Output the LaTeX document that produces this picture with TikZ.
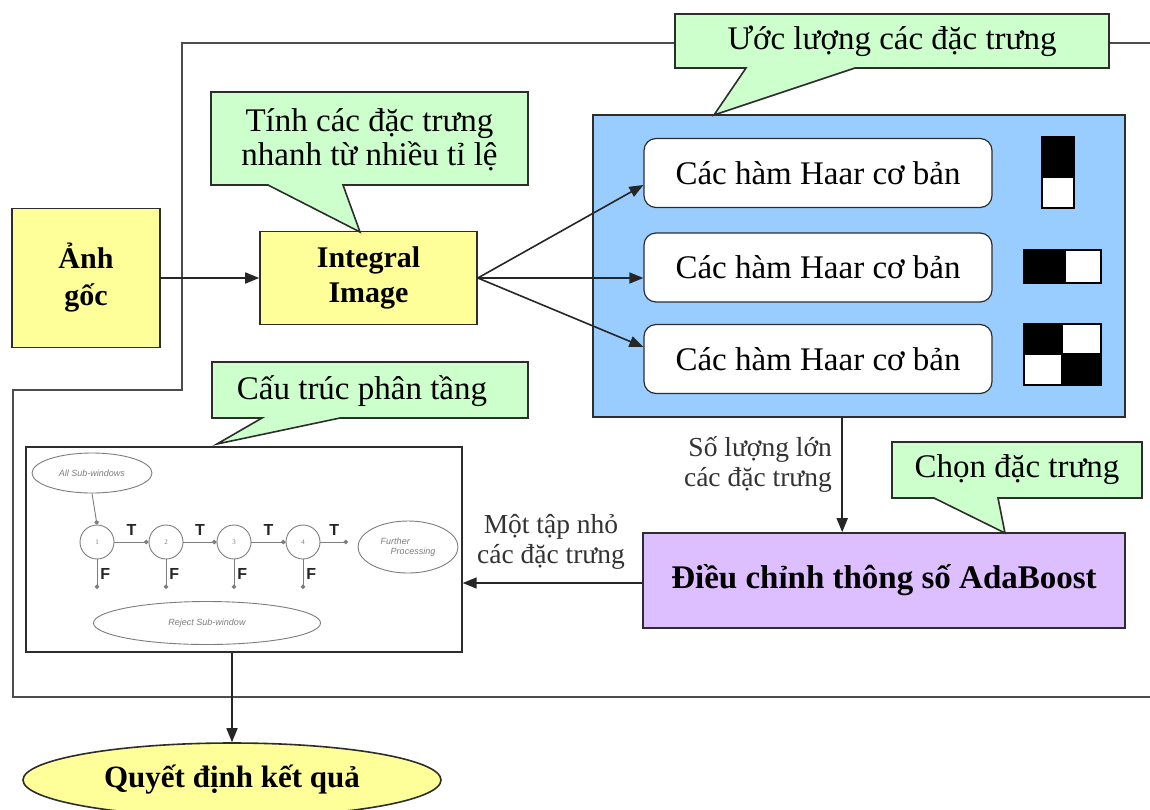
\documentclass[tikz,border=0pt]{standalone}
\usepackage{fontspec}
\setmainfont{Liberation Serif}
\setsansfont{Liberation Sans}
\usetikzlibrary{arrows.meta,shapes.geometric,calc}
\definecolor{cgreen}{RGB}{204,255,204}
\definecolor{cyellow}{RGB}{255,255,153}
\definecolor{cblue}{RGB}{153,204,255}
\definecolor{cpurple}{RGB}{221,190,255}
\definecolor{cline}{RGB}{45,45,45}
\definecolor{cgray}{RGB}{125,125,125}
\begin{document}
\begin{tikzpicture}[x=1pt,y=-1pt,
  box/.style={draw=cline,line width=1.6pt,inner sep=0pt,align=center},
  ybox/.style={box,fill=cyellow,font=\fontsize{30}{35}\selectfont\bfseries},
  callout/.style={draw=cline,line width=1.6pt,fill=cgreen,line join=miter},
  ctext/.style={inner sep=0pt,align=center,font=\fontsize{33}{34}\selectfont},
  haar/.style={draw=cline,line width=1.2pt,fill=white,rounded corners=12pt,minimum width=348pt,minimum height=69pt,inner sep=0pt,font=\fontsize{33}{36}\selectfont},
  arr/.style={draw=black!85,line width=1.6pt,-{Triangle[length=14pt,width=11pt]}},
  lbl/.style={inner sep=0pt,font=\fontsize{27.5}{30}\selectfont,text=black!80},
  outer/.style={draw=black!70,line width=2pt},
  cas/.style={draw=cgray,line width=0.9pt},
  casarr/.style={cas,-{Circle[length=4.5pt]}},
  sm/.style={font=\sffamily\itshape\fontsize{9}{10}\selectfont,text=cgray,inner sep=0pt},
  stage/.style={circle,cas,fill=white,minimum size=34pt,inner sep=0pt,font=\fontsize{7}{7}\selectfont,text=cgray},
  oval/.style={ellipse,cas,fill=white,inner sep=0pt},
  tf/.style={font=\sffamily\bfseries\fontsize{16}{16}\selectfont,inner sep=0pt,text=black!85},
  blk/.style={fill=black,draw=black,line width=1.2pt},
  wht/.style={fill=white,draw=black,line width=1.2pt},
]
\useasboundingbox[fill=white] (0,0) rectangle (1150,809);

% outer frame line
\draw[outer] (1150,43) -- (182,43) -- (182,390) -- (13,390) -- (13,697) -- (1150,697);

% main boxes
\node[ybox,minimum width=148pt,minimum height=139pt,font=\fontsize{30}{37}\selectfont\bfseries] (anh) at (86,278) {Ảnh\\gốc};
\node[ybox,minimum width=217pt,minimum height=93pt] (integ) at (368.5,278) {Integral\\Image};

% blue container
\node[box,fill=cblue,minimum width=532pt,minimum height=302pt] (blue) at (859,266) {};
\node[haar] (h1) at (818,173) {Các hàm Haar cơ bản};
\node[haar] (h2) at (818,267.5) {Các hàm Haar cơ bản};
\node[haar] (h3) at (818,359) {Các hàm Haar cơ bản};

% haar icons
\draw[wht] (1042,137) rectangle (1074,208);
\draw[blk] (1042,137) rectangle (1074,177);
\draw[wht] (1024,250) rectangle (1101,283);
\draw[blk] (1024,250) rectangle (1065,283);
\draw[wht] (1024,324) rectangle (1101,385);
\draw[blk] (1024,324) rectangle (1062,354);
\draw[blk] (1062,354) rectangle (1101,385);

% adaboost
\node[box,fill=cpurple,minimum width=482pt,minimum height=95pt,font=\fontsize{33}{36}\selectfont\bfseries] (ada) at (884,580.5) {Điều chỉnh thông số AdaBoost};

% cascade box
\node[box,fill=white,line width=1.4pt,minimum width=436pt,minimum height=205pt] (casc) at (244,549.5) {};
\node[oval,minimum width=120pt,minimum height=40pt,sm] (asw) at (92,473) {All Sub-windows};
\node[stage] (n1) at (97,542) {1};
\node[stage] (n2) at (166,542) {2};
\node[stage] (n3) at (234,542) {3};
\node[stage] (n4) at (303,542) {4};
\node[oval,minimum width=100pt,minimum height=52pt,sm,align=left] (fp) at (408,547) {Further\\\hspace{10pt}Processing};
\node[oval,minimum width=227pt,minimum height=43pt,sm] (rj) at (207,623) {Reject Sub-window};
\coordinate (e4) at (348,542);
\coordinate (d1) at (97,589);
\coordinate (d2) at (166,589);
\coordinate (d3) at (234,589);
\coordinate (d4) at (303,589);
\draw[casarr] (asw.south) -- (n1.north);
\draw[casarr] (n1.east) -- node[tf,above=6pt] (t1) {T} (n2.west);
\draw[casarr] (n2.east) -- node[tf,above=6pt] (t2) {T} (n3.west);
\draw[casarr] (n3.east) -- node[tf,above=6pt] (t3) {T} (n4.west);
\draw[casarr] (n4.east) -- node[tf,above=6pt] (t4) {T} (e4);
\draw[casarr] (n1.south) -- node[tf,right=3pt,pos=0.5] (f1) {F} (d1);
\draw[casarr] (n2.south) -- node[tf,right=3pt,pos=0.5] (f2) {F} (d2);
\draw[casarr] (n3.south) -- node[tf,right=3pt,pos=0.5] (f3) {F} (d3);
\draw[casarr] (n4.south) -- node[tf,right=3pt,pos=0.5] (f4) {F} (d4);

% final ellipse
\node[ellipse,draw=cline,line width=1.6pt,fill=cyellow,minimum width=418pt,minimum height=74pt,inner sep=0pt,font=\fontsize{31}{34}\selectfont\bfseries] (qd) at (232,780) {Quyết định kết quả};

% callouts
\draw[callout] (211,92) -- (528,92) -- (528,185) -- (343,185) -- (360,232) -- (268,185) -- (211,185) -- cycle;
\node[ctext] (c1) at (369.5,140) {Tính các đặc trưng\\nhanh từ nhiều tỉ lệ};
\draw[callout] (675,14) -- (1109,14) -- (1109,68) -- (855,68) -- (714,115) -- (746,68) -- (675,68) -- cycle;
\node[ctext] (c2) at (892,41) {Ước lượng các đặc trưng};
\draw[callout] (212,362) -- (528,362) -- (528,418) -- (340,418) -- (217,444) -- (262,418) -- (212,418) -- cycle;
\node[ctext] (c3) at (362,391) {Cấu trúc phân tầng};
\draw[callout] (892,442) -- (1142,442) -- (1142,498) -- (998,498) -- (1005,533) -- (934,498) -- (892,498) -- cycle;
\node[ctext] (c4) at (1017,470) {Chọn đặc trưng};

% connectors
\draw[arr] (anh.east) -- (integ.west);
\draw[arr] (integ.east) -- (h1.west |- 0,185);
\draw[arr] (integ.east) -- (h2.west |- integ.east);
\draw[arr] (integ.east) -- (h3.west |- 0,347);
\coordinate (a1) at ($(ada.north west)+(200,0)$);
\draw[arr] (a1 |- blue.south) -- (a1);
\draw[arr] (ada.west |- 0,583) -- (casc.east |- 0,583);
\draw[arr] (casc.south -| qd.north) -- (qd.north);

% labels
\node[lbl,anchor=east,align=right] (l1) at (832,465) {Số lượng lớn\\các đặc trưng};
\node[lbl,align=center] (l2) at (551,542) {Một tập nhỏ\\các đặc trưng};
\end{tikzpicture}
\end{document}
